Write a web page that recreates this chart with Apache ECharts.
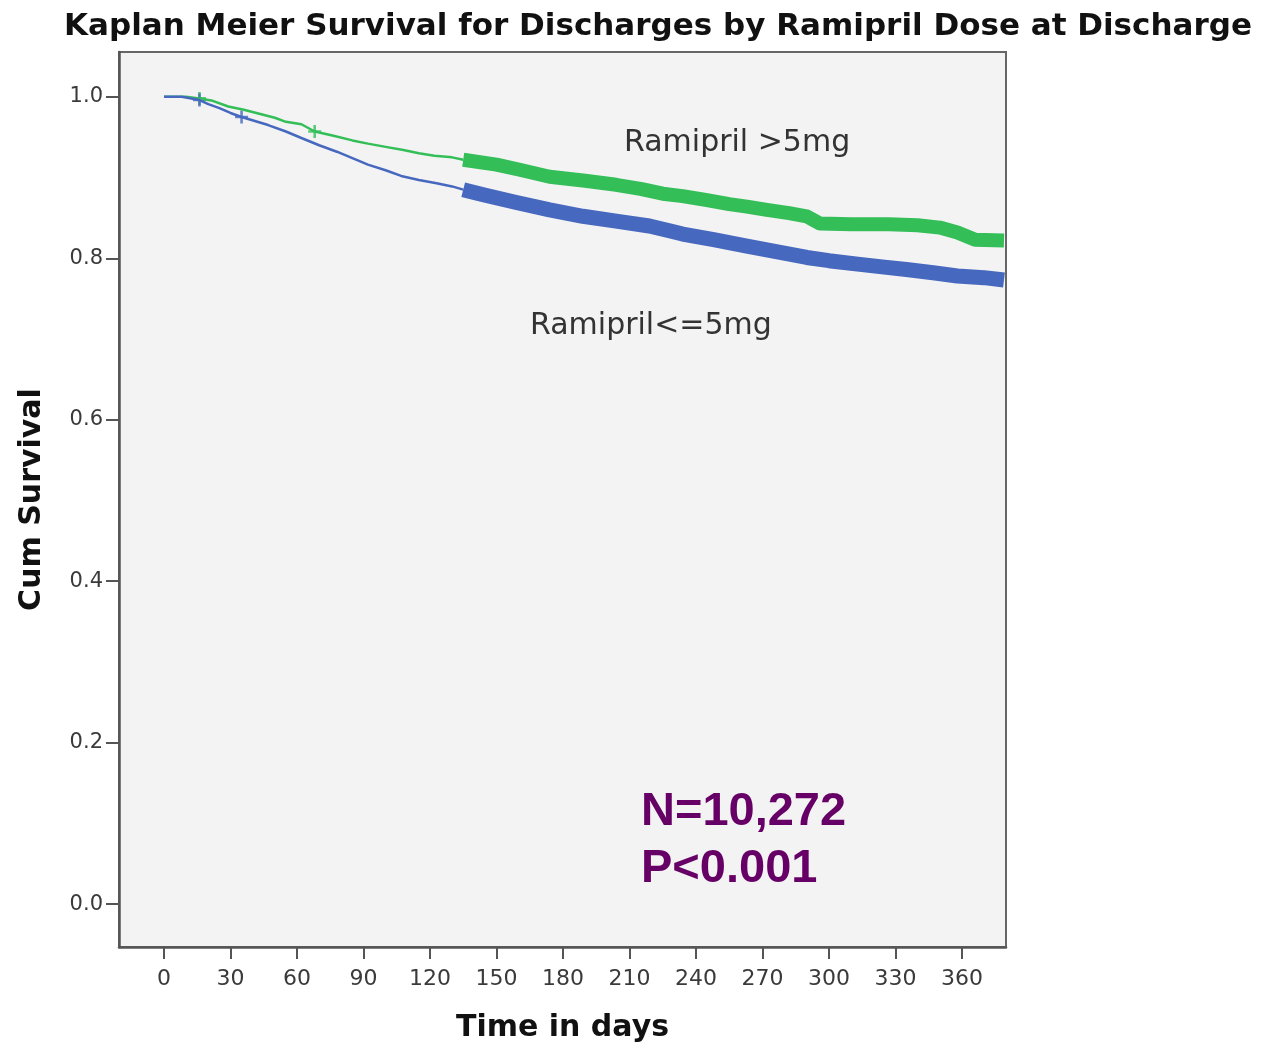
<!DOCTYPE html>
<html>
<head>
<meta charset="utf-8">
<script src="https://cdn.jsdelivr.net/npm/echarts@6/dist/echarts.min.js"></script>
<style>
  html, body { margin: 0; padding: 0; background: #ffffff; }
  #chart { width: 1279px; height: 1048px; }
</style>
</head>
<body>
<div id="chart"></div>
<script>
// Kaplan-Meier estimates (day, cumulative survival) per dose group
const highDays = [0, 10, 16, 22, 29, 36, 43, 50, 55, 62, 68, 76, 85, 92, 100, 108, 115, 122, 130, 135,
  150, 160, 174, 190, 204, 215, 225, 234, 245, 255, 263, 272, 282, 290, 296, 310, 327, 340, 350, 358, 366, 379];
const highSurv = [1.000, 1.000, 0.998, 0.995, 0.988, 0.984, 0.979, 0.974, 0.969, 0.966, 0.957, 0.952, 0.946, 0.942, 0.938, 0.934, 0.930, 0.927, 0.925, 0.922,
  0.916, 0.910, 0.901, 0.896, 0.891, 0.886, 0.880, 0.877, 0.872, 0.867, 0.864, 0.860, 0.856, 0.852, 0.843, 0.842, 0.842, 0.841, 0.838, 0.832, 0.823, 0.822];

const lowDays = [0, 8, 16, 20, 25, 30, 35, 41, 47, 55, 62, 70, 78, 85, 92, 100, 107, 115, 123, 130, 135,
  145, 159, 174, 189, 204, 219, 228, 234, 248, 263, 275, 290, 300, 312, 325, 335, 347, 358, 370, 379];
const lowSurv = [1.000, 1.000, 0.996, 0.991, 0.986, 0.980, 0.975, 0.970, 0.965, 0.957, 0.949, 0.940, 0.932, 0.924, 0.916, 0.909, 0.902, 0.897, 0.893, 0.889, 0.885,
  0.878, 0.869, 0.860, 0.852, 0.846, 0.840, 0.834, 0.830, 0.823, 0.815, 0.809, 0.801, 0.797, 0.793, 0.789, 0.786, 0.782, 0.778, 0.776, 0.773];

// Isolated censoring times before follow-up censoring becomes continuous
const highCensor = [16, 68];
const lowCensor = [16, 35];
const denseCensorFrom = 135;

const xTicks = [0, 30, 60, 90, 120, 150, 180, 210, 240, 270, 300, 330, 360];
const yTicks = [0, 0.2, 0.4, 0.6, 0.8, 1.0];

const groupNames = ['Ramipril >5mg', 'Ramipril<=5mg'];
const titleText = 'Kaplan Meier Survival for Discharges by Ramipril Dose at Discharge';
const notes = ['N=10,272', 'P<0.001'];

const GREEN = '#34be58';
const BLUE = '#4768bf';

function pairs(days, surv) { return days.map((d, i) => [d, surv[i]]); }
function before(days, surv, t) { return pairs(days, surv).filter(p => p[0] <= t); }
function after(days, surv, t) { return pairs(days, surv).filter(p => p[0] >= t); }
function survAt(days, surv, t) {
  // linear reading between estimate points
  for (let i = 1; i < days.length; i++) {
    if (t <= days[i]) {
      const f = (t - days[i - 1]) / (days[i] - days[i - 1]);
      return surv[i - 1] + f * (surv[i] - surv[i - 1]);
    }
  }
  return surv[surv.length - 1];
}

const plus = 'path://M4,0 L6,0 L6,4 L10,4 L10,6 L6,6 L6,10 L4,10 L4,6 L0,6 L0,4 L4,4 Z';

const chart = echarts.init(document.getElementById('chart'), null, { renderer: 'canvas' });

chart.setOption({
  animation: false,
  backgroundColor: '#ffffff',
  title: {
    text: titleText,
    left: 59, top: 6,
    textStyle: { fontFamily: 'DejaVu Sans', fontWeight: 'bold', fontSize: 31, color: '#111' }
  },
  grid: {
    left: 119, right: 273, top: 52, bottom: 98,
    show: true, backgroundColor: '#f3f3f3', borderColor: '#666', borderWidth: 2
  },
  xAxis: {
    type: 'value', min: -20.3, max: 379.9,
    name: 'Time in days', nameLocation: 'middle', nameGap: 66,
    nameTextStyle: { fontFamily: 'DejaVu Sans', fontWeight: 'bold', fontSize: 30, color: '#111' },
    axisLine: { show: true, onZero: false, lineStyle: { color: '#555', width: 2.5 } },
    axisTick: { show: true, length: 12, lineStyle: { color: '#555', width: 2 }, customValues: xTicks },
    axisLabel: { customValues: xTicks, margin: 21, fontFamily: 'DejaVu Sans', fontSize: 22, color: '#3a3a3a' },
    splitLine: { show: false }
  },
  yAxis: {
    type: 'value', min: -0.0531, max: 1.0555,
    name: 'Cum Survival', nameLocation: 'middle', nameGap: 72,
    nameTextStyle: { fontFamily: 'DejaVu Sans', fontWeight: 'bold', fontSize: 30, color: '#111' },
    axisLine: { show: true, onZero: false, lineStyle: { color: '#555', width: 2.5 } },
    axisTick: { show: true, length: 13, lineStyle: { color: '#555', width: 2 }, customValues: yTicks },
    axisLabel: { customValues: yTicks, margin: 16, fontFamily: 'DejaVu Sans', fontSize: 21, color: '#3a3a3a',
      formatter: v => v.toFixed(1) },
    splitLine: { show: false }
  },
  series: [
    { name: groupNames[0], type: 'line', showSymbol: false, clip: true,
      data: before(highDays, highSurv, denseCensorFrom),
      lineStyle: { color: GREEN, width: 2.5 } },
    { name: groupNames[0], type: 'line', showSymbol: false, clip: true,
      data: after(highDays, highSurv, denseCensorFrom),
      lineStyle: { color: GREEN, width: 14, cap: 'butt', join: 'round' } },
    { name: groupNames[1], type: 'line', showSymbol: false, clip: true,
      data: before(lowDays, lowSurv, denseCensorFrom),
      lineStyle: { color: BLUE, width: 2.5 } },
    { name: groupNames[1], type: 'line', showSymbol: false, clip: true,
      data: after(lowDays, lowSurv, denseCensorFrom),
      lineStyle: { color: BLUE, width: 15, cap: 'butt', join: 'round' } },
    { type: 'scatter', symbol: plus, symbolSize: 13, itemStyle: { color: GREEN },
      data: highCensor.map(d => [d, survAt(highDays, highSurv, d)]) },
    { type: 'scatter', symbol: plus, symbolSize: 13, itemStyle: { color: BLUE },
      data: lowCensor.map(d => [d, survAt(lowDays, lowSurv, d)]) }
  ],
  graphic: [
    { type: 'text', left: 624, top: 128,
      style: { text: groupNames[0], fontFamily: 'DejaVu Sans', fontSize: 30, fill: '#333' } },
    { type: 'text', left: 530, top: 311,
      style: { text: groupNames[1], fontFamily: 'DejaVu Sans', fontSize: 30, fill: '#333' } },
    { type: 'text', left: 641, top: 789,
      style: { text: notes[0], fontFamily: 'Liberation Sans', fontWeight: 'bold', fontSize: 47, fill: '#660066' } },
    { type: 'text', left: 641, top: 846,
      style: { text: notes[1], fontFamily: 'Liberation Sans', fontWeight: 'bold', fontSize: 47, fill: '#660066' } }
  ]
});
</script>
</body>
</html>
